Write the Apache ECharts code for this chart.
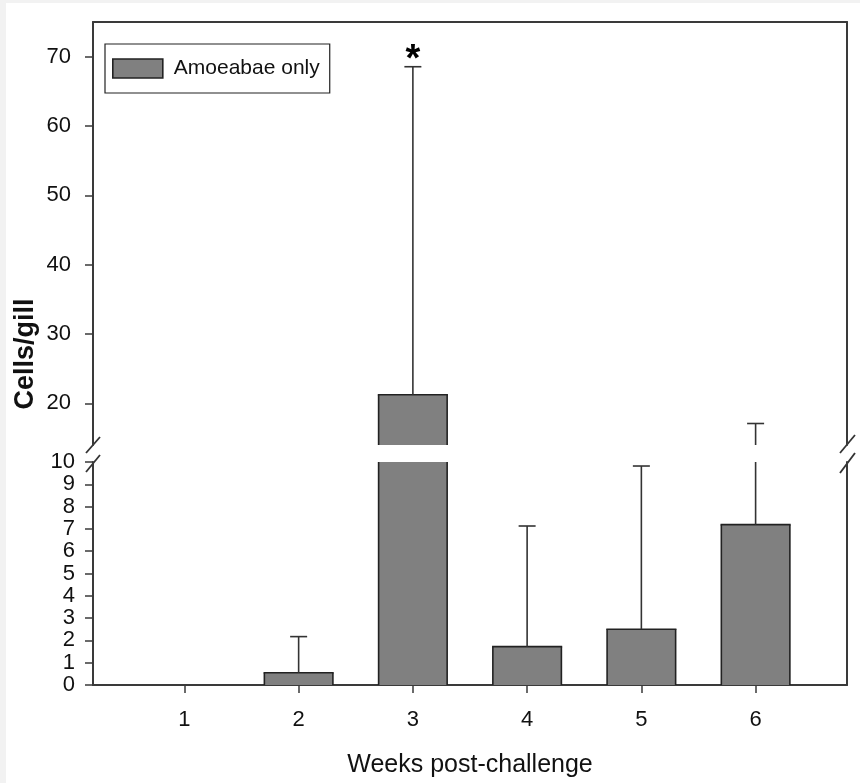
<!DOCTYPE html>
<html>
<head>
<meta charset="utf-8">
<script src="https://cdn.jsdelivr.net/npm/echarts@6/dist/echarts.min.js"></script>
<style>
  html, body { margin: 0; padding: 0; background: #f2f2f2; }
  #chart { position: absolute; left: 6px; top: 3px; width: 854px; height: 780px; background: #fff; }
</style>
</head>
<body>
<div id="chart"></div>
<script>
// weeks post-challenge
var weeks = [1, 2, 3, 4, 5, 6];
// mean cells/gill
var means = [0, 0.55, 21.25, 1.72, 2.5, 7.19];
// upper end of error bar
var errTop = [0, 2.17, 68.55, 7.13, 9.82, 17.1];
// significance marks
var marks = ['', '', '*', '', '', ''];
var upperTicks = [20, 30, 40, 50, 60, 70];

var seriesName = 'Amoeabae only';
var axisColor = '#3a3a3a';
var barFill = '#808080';
var barEdge = '#222';
var font = 'Liberation Sans, Arial, sans-serif';

var barData = weeks.map(function (w, i) { return [w, means[i]]; });
var errData = weeks.map(function (w, i) { return [w, means[i], errTop[i]]; });

function clamp(v, a, b) { return Math.min(Math.max(v, a), b); }

// bars: fill clipped to the grid, outline only on real edges (not at the axis break)
function renderBar(params, api) {
  var x = api.value(0), v = api.value(1);
  var cs = params.coordSys;
  var yMin = cs.y, yMax = cs.y + cs.height;
  var pTop = api.coord([x, v]);
  var pBase = api.coord([x, 0]);
  var half = api.size([0.6, 0])[0] / 2;
  var yt = clamp(pTop[1], yMin, yMax);
  var yb = clamp(pBase[1], yMin, yMax);
  if (yb - yt < 0.5) return null;
  var xl = pTop[0] - half, xr = pTop[0] + half;
  var st = { stroke: barEdge, lineWidth: 1.6 };
  var children = [
    { type: 'rect', shape: { x: xl, y: yt, width: xr - xl, height: yb - yt }, style: { fill: barFill } },
    { type: 'line', shape: { x1: xl, y1: yt, x2: xl, y2: yb }, style: st },
    { type: 'line', shape: { x1: xr, y1: yt, x2: xr, y2: yb }, style: st }
  ];
  if (pTop[1] >= yMin) {
    children.push({ type: 'line', shape: { x1: xl - 0.8, y1: yt, x2: xr + 0.8, y2: yt }, style: st });
  }
  return { type: 'group', children: children };
}

function renderErr(params, api) {
  var x = api.value(0), lo = api.value(1), hi = api.value(2);
  var mark = marks[params.dataIndex];
  if (!(hi > lo)) return null;
  var cs = params.coordSys;
  var yMin = cs.y, yMax = cs.y + cs.height;
  var pTop = api.coord([x, hi]);
  var pBase = api.coord([x, lo]);
  var y1 = clamp(pBase[1], yMin, yMax);
  var y2 = clamp(pTop[1], yMin, yMax);
  var children = [];
  var st = { stroke: '#333', lineWidth: 1.6 };
  if (y1 !== y2) {
    children.push({ type: 'line', shape: { x1: pTop[0], y1: y1, x2: pTop[0], y2: y2 }, style: st });
  }
  if (pTop[1] >= yMin && pTop[1] <= yMax) {
    children.push({ type: 'line', shape: { x1: pTop[0] - 8.5, y1: pTop[1], x2: pTop[0] + 8.5, y2: pTop[1] }, style: st });
    if (mark) {
      children.push({ type: 'text', style: { text: mark, x: pTop[0], y: pTop[1] - 6, align: 'center', verticalAlign: 'middle', font: 'bold 38px ' + font, fill: '#000' } });
    }
  }
  return { type: 'group', children: children };
}

var chart = echarts.init(document.getElementById('chart'));

var lineStyle = { color: axisColor, width: 2 };
var tickStyle = { show: true, inside: false, length: 8, lineStyle: { color: axisColor, width: 1.5 } };
var labelFont = { fontSize: 22, fontFamily: font, color: '#111' };

var option = {
  animation: false,
  backgroundColor: '#fff',
  legend: {
    data: [{
      name: seriesName, icon: 'rect',
      itemStyle: { color: barFill, borderColor: barEdge, borderWidth: 1.6 }
    }],
    left: 99,
    top: 41,
    padding: [14, 10, 14, 7],
    itemWidth: 50,
    itemHeight: 19,
    backgroundColor: '#fff',
    borderColor: '#222',
    borderWidth: 1.2,
    borderRadius: 0,
    textStyle: { fontSize: 21, fontFamily: font, color: '#111', padding: [0, 0, 0, 6] }
  },
  grid: [
    { left: 87, right: 13, top: 19, height: 423 },
    { left: 87, right: 13, top: 459, height: 223 }
  ],
  xAxis: [
    {
      gridIndex: 0, type: 'value', position: 'top', min: 0.2, max: 6.8,
      axisLine: { show: true, lineStyle: lineStyle },
      axisTick: { show: false }, axisLabel: { show: false }, splitLine: { show: false }
    },
    {
      gridIndex: 1, type: 'value', position: 'bottom', min: 0.2, max: 6.8,
      axisLine: { show: true, lineStyle: lineStyle },
      axisTick: { show: true, inside: false, length: 8, lineStyle: { color: axisColor, width: 1.5 }, customValues: weeks },
      axisLabel: Object.assign({ show: true, customValues: weeks, margin: 24 }, labelFont),
      splitLine: { show: false },
      name: 'Weeks post-challenge', nameLocation: 'middle', nameGap: 68,
      nameTextStyle: { fontSize: 25, fontFamily: font, color: '#111' }
    }
  ],
  yAxis: [
    {
      gridIndex: 0, type: 'value', position: 'left', min: 14, max: 75,
      axisLine: { show: true, lineStyle: lineStyle },
      axisTick: Object.assign({ customValues: upperTicks }, tickStyle),
      axisLabel: Object.assign({ customValues: upperTicks, margin: 22 }, labelFont),
      splitLine: { show: false }
    },
    {
      gridIndex: 0, type: 'value', position: 'right', min: 14, max: 75,
      axisLine: { show: true, lineStyle: lineStyle },
      axisTick: { show: false }, axisLabel: { show: false }, splitLine: { show: false }
    },
    {
      gridIndex: 1, type: 'value', position: 'left', min: 0, max: 10, interval: 1,
      axisLine: { show: true, lineStyle: lineStyle },
      axisTick: tickStyle,
      axisLabel: Object.assign({ margin: 18 }, labelFont),
      splitLine: { show: false }
    },
    {
      gridIndex: 1, type: 'value', position: 'right', min: 0, max: 10,
      axisLine: { show: true, lineStyle: lineStyle },
      axisTick: { show: false }, axisLabel: { show: false }, splitLine: { show: false }
    }
  ],
  series: [
    {
      name: seriesName, type: 'custom', xAxisIndex: 0, yAxisIndex: 0,
      renderItem: renderBar, data: barData, itemStyle: { color: barFill }
    },
    {
      name: seriesName, type: 'custom', xAxisIndex: 1, yAxisIndex: 2,
      renderItem: renderBar, data: barData, itemStyle: { color: barFill }
    },
    {
      type: 'custom', xAxisIndex: 0, yAxisIndex: 0, renderItem: renderErr, data: errData
    },
    {
      type: 'custom', xAxisIndex: 1, yAxisIndex: 2, renderItem: renderErr, data: errData
    }
  ],
  graphic: [
    {
      type: 'text', x: 20, y: 351, rotation: Math.PI / 2,
      style: { text: 'Cells/gill', font: 'bold 27px ' + font, fill: '#111', align: 'center', verticalAlign: 'middle' }
    },
    // axis break marks
    { type: 'line', shape: { x1: 80, y1: 450, x2: 94, y2: 434 }, style: { stroke: '#333', lineWidth: 1.8 } },
    { type: 'line', shape: { x1: 80, y1: 469, x2: 94, y2: 452 }, style: { stroke: '#333', lineWidth: 1.8 } },
    { type: 'line', shape: { x1: 834, y1: 450, x2: 849, y2: 432 }, style: { stroke: '#333', lineWidth: 1.8 } },
    { type: 'line', shape: { x1: 834, y1: 470, x2: 849, y2: 450 }, style: { stroke: '#333', lineWidth: 1.8 } }
  ]
};

chart.setOption(option);
window.addEventListener('resize', function () { chart.resize(); });
</script>
</body>
</html>
